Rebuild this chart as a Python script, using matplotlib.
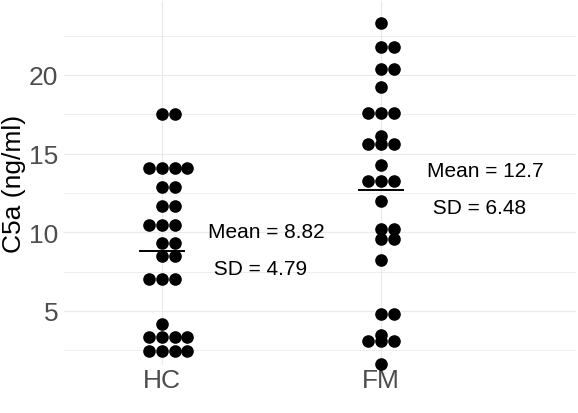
import matplotlib.pyplot as plt
import numpy as np

plt.rcParams['font.family'] = ['Liberation Sans', 'DejaVu Sans']

# Data (stack centres, ng/ml)
groups = ['HC', 'FM']
hc_values = [2.47, 2.47, 2.47, 2.47, 3.33, 3.33, 3.33, 3.33, 4.17,
             7.03, 7.03, 7.03, 8.49, 8.49, 9.32, 9.32,
             10.46, 10.46, 10.46, 11.67, 11.67, 12.88, 12.88,
             14.09, 14.09, 14.09, 14.09, 17.52, 17.52]
fm_values = [1.63, 3.11, 3.11, 3.11, 3.47, 4.80, 4.80, 8.24,
             9.57, 9.57, 10.21, 10.21, 12.01, 13.28, 13.28, 13.28, 14.28,
             15.62, 15.62, 15.62, 16.10, 17.57, 17.57, 17.57, 19.26,
             20.38, 20.38, 21.80, 21.80, 23.30]
means = [8.82, 12.7]
sds = [4.79, 6.48]

W, H = 578, 414
fig = plt.figure(figsize=(W / 100, H / 100), dpi=100)
ax = fig.add_axes([64 / W, (H - 366) / H, (576 - 64) / W, (366 - 2) / H])
ax.set_xlim(0.553, 2.89)
ax.set_ylim(1.56, 24.7)

# grid like theme_minimal
ax.set_yticks([5, 10, 15, 20])
ax.set_yticks([2.5, 7.5, 12.5, 17.5, 22.5], minor=True)
ax.set_xticks([1, 2])
ax.set_xticklabels(groups)
ax.grid(True, which='major', color='#EBEBEB', lw=0.9)
ax.grid(True, which='minor', axis='y', color='#EBEBEB', lw=0.6)
ax.set_axisbelow(True)
for s in ax.spines.values():
    s.set_visible(False)
ax.tick_params(which='both', length=0)
ax.tick_params(axis='y', labelsize=19, labelcolor='#4D4D4D', pad=4)
ax.tick_params(axis='x', labelsize=19, labelcolor='#4D4D4D', pad=2)
ax.set_ylabel('C5a (ng/ml)', fontsize=19, color='black', labelpad=2.5)

# dot spacing in data units (stack like geom_dotplot stackdir='centerwhole')
dot_px = 12.6
px_per_unit = ax.transData.transform((2, 0))[0] - ax.transData.transform((1, 0))[0]
step = dot_px / px_per_unit

for i, vals in enumerate([hc_values, fm_values]):
    xc = i + 1
    xs, ys = [], []
    for v in sorted(set(vals)):
        n = vals.count(v)
        a = np.arange(1, n + 1)
        offs = a - 1 - np.floor((n - 1) / 2)
        xs.extend(xc + offs * step)
        ys.extend([v] * n)
    ax.scatter(xs, ys, s=(dot_px * 0.72) ** 2, color='black', lw=0, zorder=3,
               clip_on=False)

    # mean bar and labels
    ax.plot([xc - 0.1, xc + 0.1], [means[i], means[i]], color='black', lw=1.4, zorder=4)
    ax.text(xc + 0.21, means[i] + 0.85, f'Mean = {means[i]}', fontsize=15,
            ha='left', va='baseline')
    ax.text(xc + 0.21, means[i] - 1.5, f' SD = {sds[i]}', fontsize=15,
            ha='left', va='baseline')

plt.savefig('out.png', dpi=100)
